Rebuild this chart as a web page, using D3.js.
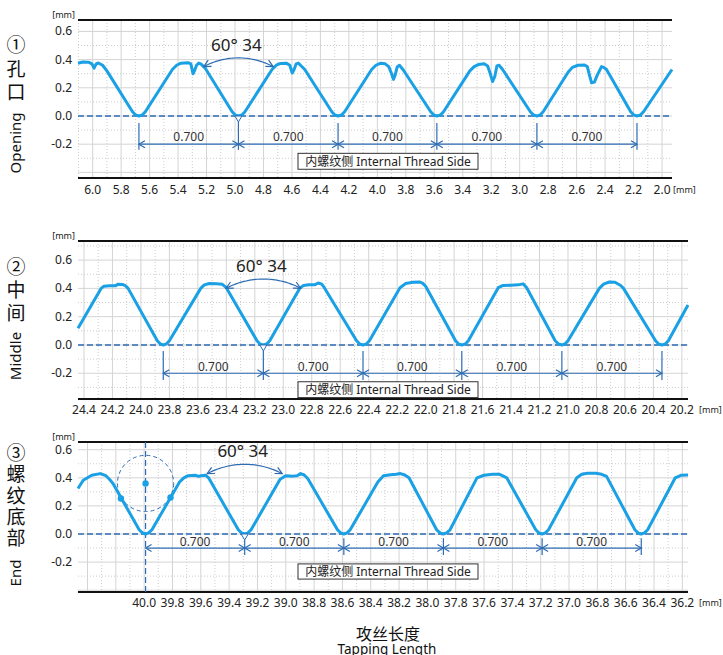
<!DOCTYPE html>
<html lang="zh">
<head>
<meta charset="UTF-8" />
<title>Thread profile</title>
<script src="https://d3js.org/d3.v7.min.js"></script>
<style>
  body { margin: 0; background: #fff; }
  svg { display: block; font-family: "Noto Sans", "Noto Sans CJK SC", sans-serif; }
  .grid-major { stroke: #d4d4d4; stroke-width: 1; }
  .grid-minor { stroke: #cdcdcd; stroke-width: 1; stroke-dasharray: 1 2; }
  .frame { stroke: #111; stroke-width: 2; }
  .tick { font-size: 12px; fill: #222; }
  .unit { font-size: 9px; fill: #222; }
  .dim { stroke: #2d6cb3; stroke-width: 1.2; fill: none; }
  .dim-label { font-size: 12px; fill: #333; }
</style>
</head>
<body>
<svg id="chart" width="723" height="655"></svg>
<script>
// profile points: [position mm, height mm]
const openingProfile = [
  [6.103, 0.374], [6.07, 0.383], [6.03, 0.382], [6.005, 0.37], [5.99, 0.34], [5.975, 0.37], [5.96, 0.376], [5.93, 0.36], [5.90, 0.32],
  [5.72, 0.03], [5.70, 0.008], [5.675, 0.0], [5.65, 0.008], [5.63, 0.03],
  [5.44, 0.33], [5.41, 0.36], [5.38, 0.375], [5.33, 0.378], [5.31, 0.37], [5.295, 0.30], [5.285, 0.32], [5.27, 0.36], [5.255, 0.375], [5.24, 0.37], [5.21, 0.34],
  [5.02, 0.03], [5.00, 0.008], [4.976, 0.0], [4.95, 0.008], [4.93, 0.03],
  [4.74, 0.33], [4.71, 0.36], [4.68, 0.373], [4.64, 0.375], [4.615, 0.36], [4.598, 0.305], [4.585, 0.33], [4.57, 0.37], [4.555, 0.375], [4.54, 0.36], [4.51, 0.33],
  [4.32, 0.03], [4.30, 0.008], [4.276, 0.0], [4.25, 0.008], [4.23, 0.03],
  [4.04, 0.33], [4.01, 0.36], [3.98, 0.374], [3.945, 0.37], [3.92, 0.35], [3.90, 0.30], [3.887, 0.26], [3.875, 0.29], [3.86, 0.35], [3.845, 0.36], [3.82, 0.33],
  [3.625, 0.03], [3.605, 0.008], [3.582, 0.0], [3.555, 0.008], [3.535, 0.03],
  [3.35, 0.32], [3.32, 0.35], [3.29, 0.365], [3.25, 0.37], [3.225, 0.355], [3.21, 0.31], [3.19, 0.245], [3.175, 0.28], [3.16, 0.355], [3.145, 0.36], [3.12, 0.33],
  [2.925, 0.03], [2.905, 0.008], [2.879, 0.0], [2.855, 0.008], [2.835, 0.03],
  [2.66, 0.31], [2.63, 0.345], [2.59, 0.36], [2.545, 0.362], [2.525, 0.35], [2.51, 0.29], [2.495, 0.235], [2.475, 0.24], [2.455, 0.29], [2.425, 0.35], [2.41, 0.345], [2.39, 0.33],
  [2.22, 0.03], [2.20, 0.008], [2.176, 0.0], [2.15, 0.008], [2.13, 0.03],
  [1.93, 0.33]
];
const middleProfile = [
  [24.442, 0.118], [24.28, 0.40], [24.26, 0.415], [24.22, 0.418], [24.18, 0.418], [24.16, 0.43], [24.13, 0.428], [24.11, 0.42], [24.09, 0.40],
  [23.885, 0.03], [23.865, 0.008], [23.843, 0.0], [23.82, 0.008], [23.80, 0.03],
  [23.58, 0.40], [23.555, 0.425], [23.52, 0.435], [23.47, 0.432], [23.43, 0.43], [23.40, 0.405],
  [23.185, 0.03], [23.165, 0.008], [23.14, 0.0], [23.115, 0.008], [23.095, 0.03],
  [22.885, 0.40], [22.86, 0.42], [22.82, 0.425], [22.78, 0.425], [22.755, 0.438], [22.73, 0.43], [22.715, 0.41],
  [22.485, 0.03], [22.465, 0.008], [22.44, 0.0], [22.415, 0.008], [22.395, 0.03],
  [22.18, 0.405], [22.14, 0.435], [22.09, 0.443], [22.04, 0.445], [22.02, 0.435], [22.0, 0.415],
  [21.79, 0.03], [21.77, 0.008], [21.746, 0.0], [21.72, 0.008], [21.70, 0.03],
  [21.49, 0.405], [21.46, 0.42], [21.40, 0.422], [21.35, 0.425], [21.315, 0.432], [21.29, 0.405],
  [21.09, 0.03], [21.068, 0.008], [21.043, 0.0], [21.02, 0.008], [21.0, 0.03],
  [20.78, 0.40], [20.75, 0.43], [20.71, 0.445], [20.67, 0.443], [20.63, 0.42], [20.61, 0.40],
  [20.385, 0.03], [20.365, 0.008], [20.34, 0.0], [20.315, 0.008], [20.295, 0.03],
  [20.157, 0.283]
];
const endProfile = [
  [40.467, 0.324], [40.43, 0.383], [40.37, 0.418], [40.31, 0.43], [40.27, 0.415], [40.245, 0.39], [40.22, 0.36],
  [40.035, 0.03], [40.012, 0.008], [39.99, 0.0], [39.968, 0.008], [39.945, 0.03],
  [39.75, 0.37], [39.72, 0.40], [39.69, 0.415], [39.64, 0.418], [39.615, 0.41], [39.6, 0.415], [39.565, 0.418], [39.545, 0.40],
  [39.335, 0.03], [39.313, 0.008], [39.29, 0.0], [39.267, 0.008], [39.245, 0.03],
  [39.04, 0.39], [39.0, 0.415], [38.95, 0.412], [38.92, 0.415], [38.895, 0.43], [38.87, 0.42], [38.845, 0.395],
  [38.635, 0.03], [38.613, 0.008], [38.59, 0.0], [38.567, 0.008], [38.545, 0.03],
  [38.35, 0.37], [38.31, 0.415], [38.26, 0.422], [38.22, 0.425], [38.19, 0.43], [38.16, 0.42], [38.13, 0.40],
  [37.935, 0.03], [37.91, 0.008], [37.887, 0.0], [37.865, 0.008], [37.84, 0.03],
  [37.65, 0.40], [37.6, 0.418], [37.54, 0.425], [37.49, 0.425], [37.46, 0.41], [37.44, 0.40],
  [37.235, 0.03], [37.213, 0.008], [37.19, 0.0], [37.167, 0.008], [37.145, 0.03],
  [36.945, 0.40], [36.91, 0.425], [36.87, 0.432], [36.81, 0.432], [36.77, 0.425], [36.735, 0.41],
  [36.535, 0.03], [36.513, 0.008], [36.49, 0.0], [36.467, 0.008], [36.445, 0.03],
  [36.25, 0.40], [36.21, 0.418], [36.16, 0.42]
];

// thread roots used by the 0.700 pitch dimensions
const openingRoots = [5.675, 4.976, 4.276, 3.582, 2.879, 2.176];
const middleRoots = [23.843, 23.14, 22.44, 21.746, 21.043, 20.34];
const endRoots = [39.99, 39.29, 38.59, 37.887, 37.19, 36.49];
const pitchLabels = ["0.700", "0.700", "0.700", "0.700", "0.700"];

// tick labels
const openingTicks = [6.0, 5.8, 5.6, 5.4, 5.2, 5.0, 4.8, 4.6, 4.4, 4.2, 4.0, 3.8, 3.6, 3.4, 3.2, 3.0, 2.8, 2.6, 2.4, 2.2, 2.0];
const middleTicks = [24.4, 24.2, 24.0, 23.8, 23.6, 23.4, 23.2, 23.0, 22.8, 22.6, 22.4, 22.2, 22.0, 21.8, 21.6, 21.4, 21.2, 21.0, 20.8, 20.6, 20.4, 20.2];
const endTicks = [40.0, 39.8, 39.6, 39.4, 39.2, 39.0, 38.8, 38.6, 38.4, 38.2, 38.0, 37.8, 37.6, 37.4, 37.2, 37.0, 36.8, 36.6, 36.4, 36.2];
const heightTicks = [0.6, 0.4, 0.2, 0.0, -0.2];

// gauge circle on the end profile: centre, radius, contact points
const gaugeCircle = { x: 39.99, y: 0.36, r: 0.2 };
const gaugePoints = [[39.99, 0.36], [40.164, 0.253], [39.814, 0.26]];

const angleText = "60° 34";
const boxText = "内螺纹侧 Internal Thread Side";

const panels = [
  { profile: openingProfile, roots: openingRoots, ticks: openingTicks,
    xDomain: [6.103, 1.93], yDomain: [-0.44, 0.681],
    left: 78, right: 672, top: 20, bottom: 178,
    dimY: -0.2, labelY: -0.147, extTop: -0.05, extBottom: -0.24,
    arc: { cy: -0.113, r: 0.525 }, boxTop: -0.265, boxBottom: -0.378,
    num: "①", zh: ["孔", "口"], zhY: [45, 69, 92], en: "Opening", enY: 143,
    tickY: 194, unitX: 673 },
  { profile: middleProfile, roots: middleRoots, ticks: middleTicks,
    xDomain: [24.442, 20.157], yDomain: [-0.382, 0.735],
    left: 78, right: 688, top: 241, bottom: 399,
    dimY: -0.2, labelY: -0.153, extTop: -0.042, extBottom: -0.247,
    arc: { cy: -0.097, r: 0.563 }, boxTop: -0.26, boxBottom: -0.372,
    num: "②", zh: ["中", "间"], zhY: [267, 290, 313], en: "Middle", enY: 356,
    tickY: 414, unitX: 699 },
  { profile: endProfile, roots: endRoots, ticks: endTicks,
    xDomain: [40.467, 36.16], yDomain: [-0.413, 0.655],
    left: 78, right: 688, top: 442, bottom: 592,
    dimY: -0.1, labelY: -0.055, extTop: -0.03, extBottom: -0.15,
    arc: { cy: -0.074, r: 0.57 }, boxTop: -0.213, boxBottom: -0.321,
    num: "③", zh: ["螺", "纹", "底", "部"], zhY: [453, 474, 496, 517, 538], en: "End", enY: 573,
    tickY: 607, unitX: 699, gauge: true }
];

const curveColor = "#1aa0e4";
const dimColor = "#2d6cb3";
const svg = d3.select("#chart");

function arrowHead(g, tip, dir, len, wid) {
  const n = [-dir[1], dir[0]];
  const p1 = [tip[0] - dir[0] * len + n[0] * wid, tip[1] - dir[1] * len + n[1] * wid];
  const p2 = [tip[0] - dir[0] * len - n[0] * wid, tip[1] - dir[1] * len - n[1] * wid];
  g.append("path").attr("class", "dim")
    .attr("d", `M${p1[0]},${p1[1]}L${tip[0]},${tip[1]}L${p2[0]},${p2[1]}`);
}

panels.forEach(p => {
  const x = d3.scaleLinear().domain(p.xDomain).range([p.left, p.right]);
  const y = d3.scaleLinear().domain(p.yDomain).range([p.bottom, p.top]);
  const g = svg.append("g");

  // grid: solid every 0.2, dotted every odd 0.1
  const xs = d3.range(Math.ceil(p.xDomain[1] * 10), Math.floor(p.xDomain[0] * 10) + 1).map(v => v / 10);
  const ys = d3.range(Math.ceil(p.yDomain[0] * 10), Math.floor(p.yDomain[1] * 10) + 1).map(v => v / 10);
  g.selectAll(".gx").data(xs).join("line")
    .attr("class", d => Math.round(d * 10) % 2 === 0 ? "grid-major" : "grid-minor")
    .attr("x1", d => x(d)).attr("x2", d => x(d))
    .attr("y1", p.top).attr("y2", p.bottom);
  g.selectAll(".gy").data(ys).join("line")
    .attr("class", d => Math.abs(Math.round(d * 10)) % 2 === 0 ? "grid-major" : "grid-minor")
    .attr("x1", p.left).attr("x2", p.right)
    .attr("y1", d => y(d)).attr("y2", d => y(d));

  // frame top and bottom
  g.append("line").attr("class", "frame").attr("x1", p.left).attr("x2", p.right).attr("y1", p.top).attr("y2", p.top);
  g.append("line").attr("class", "frame").attr("x1", p.left).attr("x2", p.right).attr("y1", p.bottom).attr("y2", p.bottom);

  // tick labels
  g.selectAll(".yt").data(heightTicks).join("text")
    .attr("class", "tick").attr("text-anchor", "end")
    .attr("x", p.left - 6).attr("y", d => y(d) + 4)
    .text(d => d.toFixed(1));
  g.selectAll(".xt").data(p.ticks).join("text")
    .attr("class", "tick").attr("text-anchor", "middle")
    .attr("x", d => x(d)).attr("y", p.tickY)
    .text(d => d.toFixed(1));
  g.append("text").attr("class", "unit").attr("text-anchor", "end")
    .attr("x", p.left - 3).attr("y", p.top - 2).text("[mm]");
  g.append("text").attr("class", "unit")
    .attr("x", p.unitX).attr("y", p.tickY - 1).text("[mm]");

  // zero reference line
  g.append("line").attr("x1", p.left).attr("x2", p.right)
    .attr("y1", y(0)).attr("y2", y(0))
    .attr("stroke", dimColor).attr("stroke-width", 1.5).attr("stroke-dasharray", "6 3");

  // gauge circle on the end profile
  if (p.gauge) {
    const c = gaugeCircle;
    g.append("line").attr("x1", x(c.x)).attr("x2", x(c.x)).attr("y1", p.top).attr("y2", p.bottom)
      .attr("stroke", dimColor).attr("stroke-width", 1.2).attr("stroke-dasharray", "6 3");
    g.append("circle").attr("cx", x(c.x)).attr("cy", y(c.y))
      .attr("r", y(0) - y(c.r))
      .attr("fill", "none").attr("stroke", dimColor).attr("stroke-width", 1).attr("stroke-dasharray", "4 3");
  }

  // profile curve
  const line = d3.line().x(d => x(d[0])).y(d => y(d[1]));
  g.append("path").datum(p.profile)
    .attr("fill", "none").attr("stroke", curveColor)
    .attr("stroke-width", 3).attr("stroke-linejoin", "round")
    .attr("d", line);

  if (p.gauge) {
    g.selectAll(".gp").data(gaugePoints).join("circle")
      .attr("cx", d => x(d[0])).attr("cy", d => y(d[1])).attr("r", 3.2)
      .attr("fill", curveColor);
  }

  // pitch dimensions
  const dy = y(p.dimY);
  g.append("line").attr("class", "dim")
    .attr("x1", x(p.roots[0])).attr("x2", x(p.roots[p.roots.length - 1]))
    .attr("y1", dy).attr("y2", dy);
  p.roots.forEach((r, i) => {
    const rx = x(r);
    if (!(p.gauge && i === 0)) {
      g.append("line").attr("class", "dim")
        .attr("x1", rx).attr("x2", rx)
        .attr("y1", i === 1 ? y(0) + 6 : y(p.extTop)).attr("y2", y(p.extBottom));
    }
    if (i > 0) arrowHead(g, [rx, dy], [1, 0], 6, 3.5);
    if (i < p.roots.length - 1) arrowHead(g, [rx, dy], [-1, 0], 6, 3.5);
  });
  g.selectAll(".pl").data(pitchLabels).join("text")
    .attr("class", "dim-label").attr("text-anchor", "middle")
    .attr("x", (d, i) => (x(p.roots[i]) + x(p.roots[i + 1])) / 2)
    .attr("y", y(p.labelY) + 4)
    .text(d => d);

  // vertex marker at the measured root
  const vx = x(p.roots[1]), vy = y(0);
  g.append("path").attr("d", `M${vx - 3.5},${vy}L${vx + 3.5},${vy}L${vx},${vy + 6}Z`)
    .attr("fill", "#fff").attr("stroke", dimColor).attr("stroke-width", 1);

  // flank angle arc
  const k = y(0) - y(1);
  const cx = x(p.roots[1]), cy = y(p.arc.cy), R = p.arc.r * k;
  const half = 28 * Math.PI / 180;
  const arcPts = d3.range(-half, half + 0.001, half / 20).map(a => [cx + R * Math.sin(a), cy - R * Math.cos(a)]);
  g.append("path").attr("class", "dim").attr("d", d3.line()(arcPts));
  arrowHead(g, arcPts[0], [-Math.cos(half), Math.sin(half)], 7, 3.5);
  arrowHead(g, arcPts[arcPts.length - 1], [Math.cos(half), Math.sin(half)], 7, 3.5);
  g.append("text").attr("text-anchor", "middle")
    .attr("x", cx - 2).attr("y", cy - R - 7)
    .attr("font-size", 17).attr("fill", "#222")
    .text(angleText);

  // side box
  const bt = y(p.boxTop), bb = y(p.boxBottom);
  g.append("rect").attr("x", 298).attr("y", bt).attr("width", 180).attr("height", bb - bt)
    .attr("fill", "#fff").attr("stroke", "#333").attr("stroke-width", 1);
  g.append("text").attr("text-anchor", "middle")
    .attr("x", 388).attr("y", (bt + bb) / 2 + 4.5)
    .attr("font-size", 12).attr("fill", "#222").text(boxText);

  // left titles
  const labels = [p.num].concat(p.zh);
  g.selectAll(".lt").data(labels).join("text")
    .attr("text-anchor", "middle")
    .attr("x", 16).attr("y", (d, i) => p.zhY[i] + 7)
    .attr("font-family", "'Noto Sans CJK SC', sans-serif")
    .attr("font-size", 19).attr("fill", "#111")
    .text(d => d);
  g.append("text").attr("text-anchor", "middle")
    .attr("transform", `translate(21,${p.enY}) rotate(-90)`)
    .attr("font-size", 15).attr("fill", "#111")
    .text(p.en);
});

// axis title
svg.append("text").attr("text-anchor", "middle").attr("x", 388).attr("y", 640)
  .attr("font-family", "'Noto Sans CJK SC', sans-serif").attr("font-size", 16).attr("fill", "#111")
  .text("攻丝长度");
svg.append("text").attr("text-anchor", "middle").attr("x", 387).attr("y", 654)
  .attr("font-size", 13.5).attr("fill", "#111")
  .text("Tapping Length");
</script>
</body>
</html>
